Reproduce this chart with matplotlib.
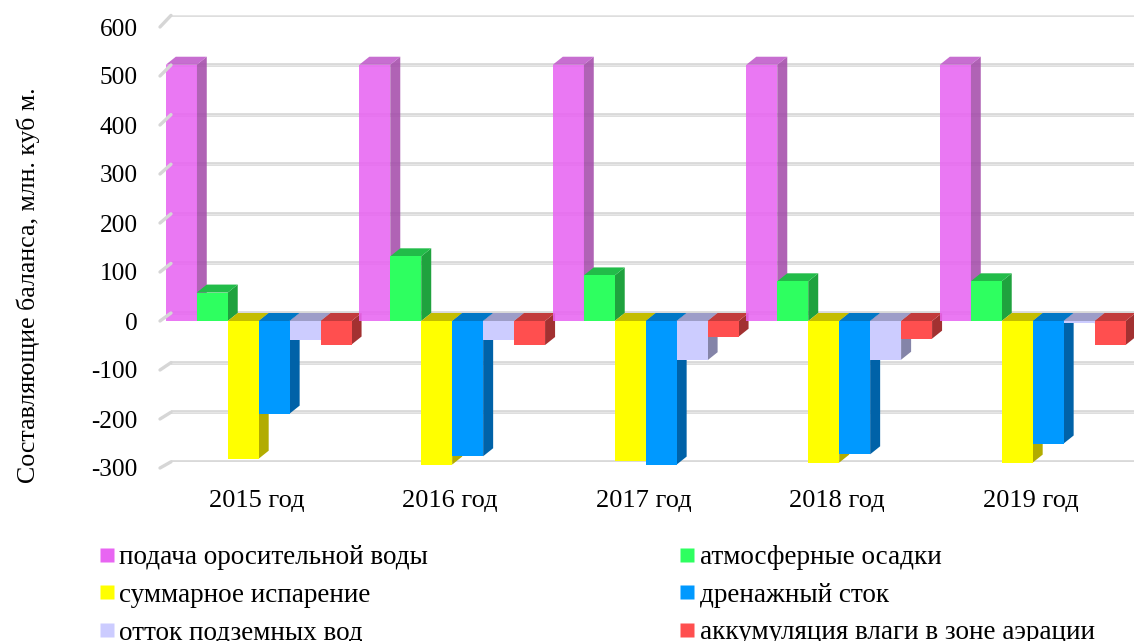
import matplotlib
matplotlib.use("Agg")
import matplotlib.pyplot as plt
from matplotlib.patches import Polygon, ConnectionPatch
from matplotlib.lines import Line2D

# Water balance components by year, mln cubic metres
years = ["2015 год", "2016 год", "2017 год", "2018 год", "2019 год"]
irrigation = [523, 523, 523, 523, 523]
precipitation = [58, 132, 93, 81, 81]
evapotranspiration = [-281, -293, -286, -289, -289]
drainage = [-189, -276, -293, -272, -250]
groundwater_outflow = [-39, -39, -80, -79, -5]
aeration_storage = [-48, -49, -32, -36, -49]

series_labels = [
    "подача оросительной воды",
    "атмосферные осадки",
    "суммарное испарение",
    "дренажный сток",
    "отток подземных вод",
    "аккумуляция влаги в зоне аэрации",
]
series_values = [irrigation, precipitation, evapotranspiration,
                 drainage, groundwater_outflow, aeration_storage]
# (front, side, top) shades for each series
series_colors = [
    ("#E865F2", "#A54DAB", "#C05ACA"),
    ("#2EFF60", "#1FA23E", "#22BC49"),
    ("#FFFF00", "#B2AC00", "#C4BD00"),
    ("#0099FF", "#0062A8", "#0077C6"),
    ("#CCCCFF", "#8484A8", "#9D9DC8"),
    ("#FF4F4F", "#A23131", "#C23C3C"),
]
series_alpha = [0.88, 1, 1, 1, 1, 1]

yticks = [-300, -200, -100, 0, 100, 200, 300, 400, 500, 600]

plt.rcParams["font.family"] = "serif"
plt.rcParams["font.serif"] = ["Liberation Serif", "DejaVu Serif"]

W, H = 1134, 641
fig = plt.figure(figsize=(W / 100, H / 100), dpi=100)

# back wall with the gridlines
ax_back = fig.add_axes([171 / W, 1 - 461.8 / H, (1140 - 171) / W, (461.8 - 15.4) / H])
ax_back.set_xlim(0, 5)
ax_back.set_ylim(-300, 600)
ax_back.axis("off")
for v in yticks:
    ax_back.axhline(v, color="#d6d6d6", lw=2.6, zorder=1)
    ax_back.axhline(v, color="#e6e6e6", lw=1.0, zorder=1.1)

# front plane carrying the bars and axis labels
ax = fig.add_axes([160 / W, 1 - 468 / H, 967.5 / W, 441 / H])
ax.patch.set_visible(False)
ax.set_xlim(0, 5)
ax.set_ylim(-300, 600)
for s in ax.spines.values():
    s.set_visible(False)
ax.set_yticks(yticks)
ax.set_yticklabels([str(v) for v in yticks], fontsize=18.2)
ax.set_xticks([i + 0.5 for i in range(len(years))])
ax.set_xticklabels(years, fontsize=19)
ax.tick_params(axis="both", length=0)
ax.tick_params(axis="y", pad=16)
ax.tick_params(axis="x", pad=16)

# short floor edges joining front labels to the back gridlines
for v in yticks:
    con = ConnectionPatch(xyA=(0, v), coordsA="data", axesA=ax,
                          xyB=(0, v), coordsB="data", axesB=ax_back,
                          color="#d6d6d6", lw=2.4)
    fig.add_artist(con)

# depth of the bars in data units
sx = ax.bbox.width / 5.0
sy = ax.bbox.height / 900.0
DX = 10.0 / sx
DY = 8.0 / sy

bar_w = 0.16
start = 0.03

for gi in range(len(years)):
    for si, vals in enumerate(series_values):
        v = vals[gi]
        front, side, top = series_colors[si]
        a = series_alpha[si]
        x0 = gi + start + si * bar_w
        x1 = x0 + bar_w
        lo, hi = min(v, 0), max(v, 0)
        side_poly = [(x1, lo), (x1, hi), (x1 + DX, hi + DY), (x1 + DX, lo + DY)]
        top_poly = [(x0, hi), (x1, hi), (x1 + DX, hi + DY), (x0 + DX, hi + DY)]
        front_poly = [(x0, lo), (x1, lo), (x1, hi), (x0, hi)]
        for pts, col in ((side_poly, side), (top_poly, top), (front_poly, front)):
            ax.add_patch(Polygon(pts, closed=True, facecolor=col, edgecolor="none",
                                 alpha=a, clip_on=False, zorder=3))

fig.text(28 / W, 1 - 285 / H, "Составляющие баланса, млн. куб м.",
         rotation=90, ha="center", va="center", fontsize=18.6)

# legend: two columns
order = [0, 2, 4, 1, 3, 5]
handles = [Line2D([], [], linestyle="none", marker="s", markersize=9.5,
                  markerfacecolor=series_colors[i][0], markeredgecolor="none")
           for i in order]
labels = [series_labels[i] for i in order]
fig.legend(handles, labels, loc="upper left",
           bbox_to_anchor=(99 / W, 1 - 545 / H), ncol=2, frameon=False,
           fontsize=19.5, handlelength=0.6, handletextpad=0.15,
           columnspacing=9.27, labelspacing=0.47, borderpad=0, borderaxespad=0)

fig.savefig("out.png", dpi=100)
